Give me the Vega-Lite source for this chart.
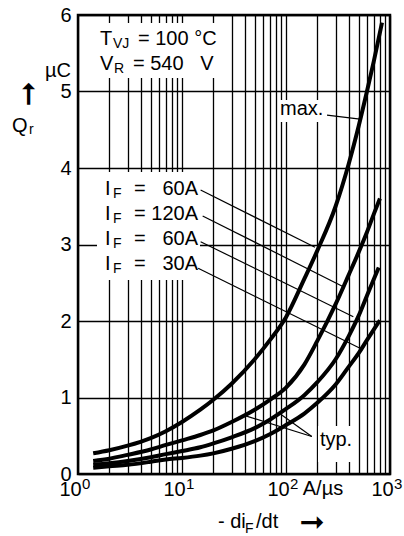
{
  "$schema": "https://vega.github.io/schema/vega-lite/v6.json",
  "width": 312,
  "height": 459,
  "autosize": {"type": "none"},
  "padding": {"left": 78, "top": 15, "right": 14, "bottom": 62},
  "background": "white",
  "config": {
    "view": {"stroke": "black", "strokeWidth": 2.5},
    "font": "Liberation Sans",
    "axis": {"gridColor": "black", "gridWidth": 1.3, "gridOpacity": 1, "labelColor": "black", "labelFont": "Liberation Sans", "labelFontSize": 20, "ticks": false, "domain": false, "title": null, "labelOverlap": false, "labelFlush": false, "labelBound": false}
  },
  "datasets": {
    "curves": [
      {"s": "max 60A", "x": 1.4, "y": 0.27}, {"s": "max 60A", "x": 2, "y": 0.31}, {"s": "max 60A", "x": 3, "y": 0.37}, {"s": "max 60A", "x": 5, "y": 0.47}, {"s": "max 60A", "x": 7, "y": 0.56}, {"s": "max 60A", "x": 10, "y": 0.68}, {"s": "max 60A", "x": 15, "y": 0.84}, {"s": "max 60A", "x": 20, "y": 0.97}, {"s": "max 60A", "x": 30, "y": 1.18}, {"s": "max 60A", "x": 50, "y": 1.5}, {"s": "max 60A", "x": 70, "y": 1.75}, {"s": "max 60A", "x": 100, "y": 2.05}, {"s": "max 60A", "x": 150, "y": 2.55}, {"s": "max 60A", "x": 200, "y": 2.92}, {"s": "max 60A", "x": 300, "y": 3.5}, {"s": "max 60A", "x": 400, "y": 4.05}, {"s": "max 60A", "x": 500, "y": 4.55}, {"s": "max 60A", "x": 600, "y": 5.0}, {"s": "max 60A", "x": 700, "y": 5.4}, {"s": "max 60A", "x": 838, "y": 5.9},
      {"s": "typ 120A", "x": 1.4, "y": 0.17}, {"s": "typ 120A", "x": 2, "y": 0.2}, {"s": "typ 120A", "x": 3, "y": 0.25}, {"s": "typ 120A", "x": 5, "y": 0.32}, {"s": "typ 120A", "x": 7, "y": 0.38}, {"s": "typ 120A", "x": 10, "y": 0.44}, {"s": "typ 120A", "x": 15, "y": 0.51}, {"s": "typ 120A", "x": 20, "y": 0.57}, {"s": "typ 120A", "x": 30, "y": 0.68}, {"s": "typ 120A", "x": 50, "y": 0.84}, {"s": "typ 120A", "x": 70, "y": 0.97}, {"s": "typ 120A", "x": 100, "y": 1.13}, {"s": "typ 120A", "x": 150, "y": 1.43}, {"s": "typ 120A", "x": 200, "y": 1.74}, {"s": "typ 120A", "x": 300, "y": 2.22}, {"s": "typ 120A", "x": 400, "y": 2.6}, {"s": "typ 120A", "x": 500, "y": 2.9}, {"s": "typ 120A", "x": 600, "y": 3.16}, {"s": "typ 120A", "x": 700, "y": 3.4}, {"s": "typ 120A", "x": 800, "y": 3.6},
      {"s": "typ 60A", "x": 1.4, "y": 0.12}, {"s": "typ 60A", "x": 2, "y": 0.14}, {"s": "typ 60A", "x": 3, "y": 0.17}, {"s": "typ 60A", "x": 5, "y": 0.22}, {"s": "typ 60A", "x": 7, "y": 0.26}, {"s": "typ 60A", "x": 10, "y": 0.3}, {"s": "typ 60A", "x": 15, "y": 0.35}, {"s": "typ 60A", "x": 20, "y": 0.4}, {"s": "typ 60A", "x": 30, "y": 0.48}, {"s": "typ 60A", "x": 50, "y": 0.6}, {"s": "typ 60A", "x": 70, "y": 0.71}, {"s": "typ 60A", "x": 100, "y": 0.85}, {"s": "typ 60A", "x": 150, "y": 1.03}, {"s": "typ 60A", "x": 200, "y": 1.2}, {"s": "typ 60A", "x": 300, "y": 1.5}, {"s": "typ 60A", "x": 400, "y": 1.8}, {"s": "typ 60A", "x": 500, "y": 2.07}, {"s": "typ 60A", "x": 600, "y": 2.33}, {"s": "typ 60A", "x": 700, "y": 2.55}, {"s": "typ 60A", "x": 780, "y": 2.7},
      {"s": "typ 30A", "x": 1.4, "y": 0.08}, {"s": "typ 30A", "x": 2, "y": 0.1}, {"s": "typ 30A", "x": 3, "y": 0.12}, {"s": "typ 30A", "x": 5, "y": 0.16}, {"s": "typ 30A", "x": 7, "y": 0.19}, {"s": "typ 30A", "x": 10, "y": 0.21}, {"s": "typ 30A", "x": 15, "y": 0.24}, {"s": "typ 30A", "x": 20, "y": 0.27}, {"s": "typ 30A", "x": 30, "y": 0.33}, {"s": "typ 30A", "x": 50, "y": 0.43}, {"s": "typ 30A", "x": 70, "y": 0.52}, {"s": "typ 30A", "x": 100, "y": 0.64}, {"s": "typ 30A", "x": 150, "y": 0.79}, {"s": "typ 30A", "x": 200, "y": 0.93}, {"s": "typ 30A", "x": 300, "y": 1.17}, {"s": "typ 30A", "x": 400, "y": 1.4}, {"s": "typ 30A", "x": 500, "y": 1.58}, {"s": "typ 30A", "x": 600, "y": 1.75}, {"s": "typ 30A", "x": 700, "y": 1.89}, {"s": "typ 30A", "x": 800, "y": 2.01}
    ],
    "boxes": [
      {"x": 1.117, "x2": 27.7, "y": 5.895, "y2": 5.176},
      {"x": 1.523, "x2": 14.9, "y": 3.948, "y2": 2.536},
      {"x": 83.8, "x2": 259, "y": 4.889, "y2": 4.601},
      {"x": 203, "x2": 471, "y": 0.627, "y2": 0.157}
    ],
    "leaders": [
      {"x": 15.1, "y": 3.712, "x2": 190, "y2": 2.963},
      {"x": 15.8, "y": 3.373, "x2": 356, "y2": 2.448},
      {"x": 15.1, "y": 3.037, "x2": 444, "y2": 2.056},
      {"x": 14.3, "y": 2.689, "x2": 515, "y2": 1.643},
      {"x": 248, "y": 4.69, "x2": 515, "y2": 4.64},
      {"x": 177, "y": 0.49, "x2": 38.9, "y2": 0.77},
      {"x": 177, "y": 0.49, "x2": 91, "y2": 0.77}
    ],
    "texts": [
      {"role": "main", "t": "T", "x": 1.627, "y": 5.608},
      {"role": "main", "t": "= 100 °C", "x": 3.776, "y": 5.608},
      {"role": "main", "t": "V", "x": 1.627, "y": 5.281},
      {"role": "main", "t": "= 540\u00a0\u00a0\u00a0V", "x": 3.379, "y": 5.281},
      {"role": "main", "t": "I", "x": 1.818, "y": 3.647},
      {"role": "main", "t": "I", "x": 1.818, "y": 3.32},
      {"role": "main", "t": "I", "x": 1.818, "y": 2.993},
      {"role": "main", "t": "I", "x": 1.818, "y": 2.667},
      {"role": "main", "t": "max.", "x": 87.5, "y": 4.693},
      {"role": "main", "t": "typ.", "x": 212, "y": 0.366},
      {"role": "main", "t": "µC", "x": 0.482, "y": 5.19},
      {"role": "main", "t": "Q", "x": 0.232, "y": 4.471},
      {"role": "main", "t": "A/µs", "x": 145, "y": -0.275},
      {"role": "main", "t": "- di", "x": 22.2, "y": -0.706},
      {"role": "main", "t": "/dt", "x": 51.5, "y": -0.706},
      {"role": "sub", "t": "VJ", "x": 2.171, "y": 5.569},
      {"role": "sub", "t": "R", "x": 2.218, "y": 5.242},
      {"role": "sub", "t": "F", "x": 2.171, "y": 3.608},
      {"role": "sub", "t": "F", "x": 2.171, "y": 3.281},
      {"role": "sub", "t": "F", "x": 2.171, "y": 2.954},
      {"role": "sub", "t": "F", "x": 2.171, "y": 2.627},
      {"role": "sub", "t": "r", "x": 0.338, "y": 4.444},
      {"role": "sub", "t": "F", "x": 40.3, "y": -0.771},
      {"role": "sup", "t": "0", "x": 1.093, "y": -0.196},
      {"role": "sup", "t": "1", "x": 10.93, "y": -0.196},
      {"role": "sup", "t": "2", "x": 109.3, "y": -0.196},
      {"role": "sup", "t": "3", "x": 1093, "y": -0.196},
      {"role": "num", "t": "=\u00a0\u00a0\u00a060A", "x": 14.25, "y": 3.647},
      {"role": "num", "t": "= 120A", "x": 14.25, "y": 3.32},
      {"role": "num", "t": "=\u00a0\u00a0\u00a060A", "x": 14.25, "y": 2.993},
      {"role": "num", "t": "=\u00a0\u00a0\u00a030A", "x": 14.25, "y": 2.667},
      {"role": "up", "t": "➞", "x": 0.338, "y": 4.967},
      {"role": "right", "t": "➞", "x": 178, "y": -0.64}
    ]
  },
  "encoding": {
    "x": {"field": "x", "type": "quantitative", "scale": {"type": "log", "domain": [1, 1000]},
      "axis": {"values": [1, 2, 3, 4, 5, 6, 7, 8, 9, 10, 20, 30, 40, 50, 60, 70, 80, 90, 100, 200, 300, 400, 500, 600, 700, 800, 900, 1000],
        "labelExpr": "(datum.value == 1 || datum.value == 10 || datum.value == 100 || datum.value == 1000) ? '10' : ''",
        "labelOffset": -8, "labelPadding": 5}},
    "y": {"field": "y", "type": "quantitative", "scale": {"domain": [0, 6]},
      "axis": {"values": [0, 1, 2, 3, 4, 5, 6], "labelPadding": 7}}
  },
  "layer": [
    {"data": {"name": "boxes"}, "mark": {"type": "rect", "fill": "white", "stroke": null},
      "encoding": {"x2": {"field": "x2"}, "y2": {"field": "y2"}}},
    {"data": {"name": "curves"}, "mark": {"type": "line", "color": "black", "strokeWidth": 4, "interpolate": "monotone"},
      "encoding": {"detail": {"field": "s"}}},
    {"data": {"name": "leaders"}, "mark": {"type": "rule", "color": "black", "strokeWidth": 1.2},
      "encoding": {"x2": {"field": "x2"}, "y2": {"field": "y2"}}},
    {"data": {"name": "texts"}, "transform": [{"filter": "datum.role == 'main'"}],
      "mark": {"type": "text", "align": "left", "baseline": "alphabetic", "fontSize": 20, "color": "black"},
      "encoding": {"text": {"field": "t"}}},
    {"data": {"name": "texts"}, "transform": [{"filter": "datum.role == 'sub'"}],
      "mark": {"type": "text", "align": "left", "baseline": "alphabetic", "fontSize": 14, "color": "black"},
      "encoding": {"text": {"field": "t"}}},
    {"data": {"name": "texts"}, "transform": [{"filter": "datum.role == 'sup'"}],
      "mark": {"type": "text", "align": "left", "baseline": "alphabetic", "fontSize": 15, "color": "black"},
      "encoding": {"text": {"field": "t"}}},
    {"data": {"name": "texts"}, "transform": [{"filter": "datum.role == 'num'"}],
      "mark": {"type": "text", "align": "right", "baseline": "alphabetic", "fontSize": 20, "color": "black"},
      "encoding": {"text": {"field": "t"}}},
    {"data": {"name": "texts"}, "transform": [{"filter": "datum.role == 'up'"}],
      "mark": {"type": "text", "align": "center", "baseline": "middle", "fontSize": 30, "font": "DejaVu Sans", "angle": -90, "color": "black"},
      "encoding": {"text": {"field": "t"}}},
    {"data": {"name": "texts"}, "transform": [{"filter": "datum.role == 'right'"}],
      "mark": {"type": "text", "align": "center", "baseline": "middle", "fontSize": 30, "font": "DejaVu Sans", "color": "black"},
      "encoding": {"text": {"field": "t"}}}
  ]
}
